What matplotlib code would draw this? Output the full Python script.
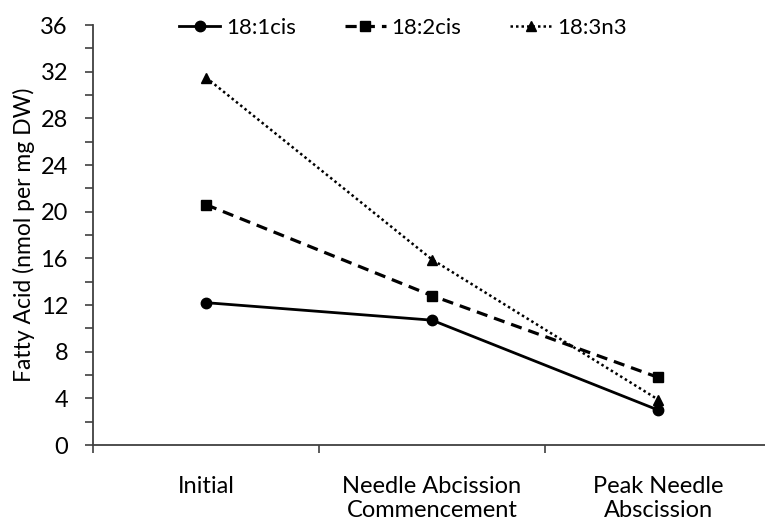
import matplotlib
matplotlib.use("Agg")
import matplotlib.pyplot as plt
from matplotlib.ticker import MultipleLocator

plt.rcParams['font.family'] = ['Lato', 'DejaVu Sans']

stages = ["Initial", "Needle Abcission\nCommencement", "Peak Needle\nAbscission"]
oleic = [12.2, 10.7, 3.0]        # 18:1cis
linoleic = [20.6, 12.8, 5.8]     # 18:2cis
linolenic = [31.5, 15.9, 3.9]    # 18:3n3
yticks = [0, 4, 8, 12, 16, 20, 24, 28, 32, 36]

fig = plt.figure(figsize=(7.65, 5.23), dpi=100)
ax = fig.add_axes([93 / 765, 1 - 445 / 523, 678 / 765, 420 / 523])

x = list(range(len(stages)))
ax.plot(x, oleic, color='black', lw=2, marker='o', ms=7.5, label='18:1cis')
ax.plot(x, linoleic, color='black', lw=2.3, ls=(0, (3.5, 2.2)), marker='s', ms=7.5,
        label='18:2cis')
ax.plot(x, linolenic, color='black', lw=1.8, ls=(0, (1, 1.2)), marker='^', ms=7.5,
        label='18:3n3')

ax.set_xlim(-0.5, 2.5)
ax.set_ylim(0, 36)
ax.set_yticks(yticks)
ax.yaxis.set_minor_locator(MultipleLocator(2))
ax.set_xticks(x)
ax.set_xticklabels(stages, fontsize=17, linespacing=1.2)
ax.set_xticks([-0.5, 0.5, 1.5, 2.5], minor=True)
ax.tick_params(axis='x', which='major', length=0, pad=22)
ax.tick_params(axis='x', which='minor', length=6, width=1.2, color='#404040', direction='out')
ax.tick_params(axis='y', which='both', length=6, width=1.2, color='#404040',
               direction='out', labelsize=17, pad=12)

for s in ['top', 'right']:
    ax.spines[s].set_visible(False)
for s in ['left', 'bottom']:
    ax.spines[s].set_color('#404040')
    ax.spines[s].set_linewidth(1.3)

ax.set_ylabel("Fatty Acid (nmol per mg DW)", fontsize=16.5, labelpad=4)

ax.legend(loc='center', bbox_to_anchor=(0.457, 1 - 3 / 420), ncol=3, frameon=False,
          fontsize=16, handlelength=1.85, handletextpad=0.25, columnspacing=2.2,
          borderaxespad=0)

fig.savefig("out.png", dpi=100)
